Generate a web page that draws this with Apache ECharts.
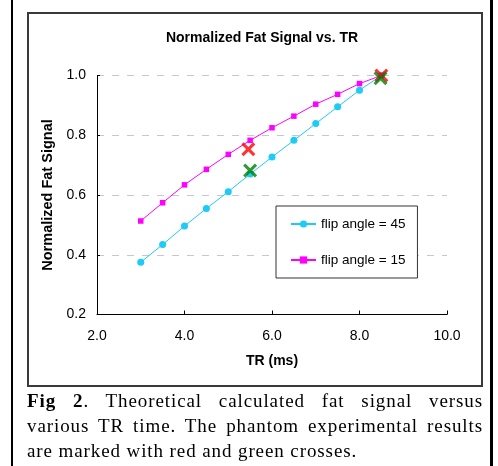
<!DOCTYPE html>
<html>
<head>
<meta charset="utf-8">
<script src="https://cdn.jsdelivr.net/npm/echarts@6/dist/echarts.min.js"></script>
<style>
  html, body { margin: 0; padding: 0; background: #fff; }
  body { width: 498px; height: 466px; position: relative; overflow: hidden; }
  .edge { position: absolute; top: 0; height: 466px; background: #000; }
  #frame { position: absolute; left: 27px; top: 12px; width: 452px; height: 371px; border: 2px solid #3a3a3a; }
  #chart { position: absolute; left: 0; top: 0; width: 498px; height: 390px; }
  #caption { position: absolute; left: 27px; top: 388px; width: 456px;
    font-family: "Liberation Serif", "DejaVu Serif", serif; font-size: 19px; letter-spacing: 0.9px;
    line-height: 25px; color: #000; }
  #caption div { text-align: justify; text-align-last: justify; white-space: nowrap; }
  #caption div.last { text-align-last: left; }
</style>
</head>
<body>
<div class="edge" style="left:11px;width:2px"></div>
<div class="edge" style="left:490px;width:3px"></div>
<div id="frame"></div>
<div id="chart"></div>
<div id="caption">
  <div><b>Fig 2</b>. Theoretical calculated fat signal versus</div>
  <div>various TR time. The phantom experimental results</div>
  <div class="last">are marked with red and green crosses.</div>
</div>
<script>
// --- DATA ---
const trValues = [3.0, 3.5, 4.0, 4.5, 5.0, 5.5, 6.0, 6.5, 7.0, 7.5, 8.0, 8.5];
const flip45 = [0.375, 0.434, 0.496, 0.555, 0.611, 0.670, 0.727, 0.783, 0.839, 0.895, 0.951, 1.0];
const flip15 = [0.513, 0.574, 0.634, 0.686, 0.736, 0.783, 0.825, 0.864, 0.904, 0.937, 0.973, 1.0];
const redCross = [[5.46, 0.753], [8.5, 1.0]];
const greenCross = [[5.5, 0.682], [8.48, 0.991]];
const seriesNames = ['flip angle = 45', 'flip angle = 15'];

// filled "X" outline, 14x14
const crossPath = 'path://M0,2.2 L2.2,0 L7,4.8 L11.8,0 L14,2.2 L9.2,7 L14,11.8 L11.8,14 L7,9.2 L2.2,14 L0,11.8 L4.8,7 Z';
const sans = 'Liberation Sans, Arial, sans-serif';

const chart = echarts.init(document.getElementById('chart'), null, { renderer: 'canvas' });

chart.setOption({
    animation: false,
    backgroundColor: 'transparent',
    title: {
        text: 'Normalized Fat Signal vs. TR',
        left: 262, top: 31, padding: 0, textAlign: 'center',
        textStyle: { fontFamily: sans, fontSize: 14, fontWeight: 'bold', color: '#000' }
    },
    grid: { left: 97, top: 75.5, width: 350, height: 239 },
    legend: {
        data: seriesNames,
        orient: 'vertical',
        left: 276, top: 206,
        padding: [11, 12, 11, 14],
        itemWidth: 25, itemHeight: 9, itemGap: 22,
        borderColor: '#333', borderWidth: 1, borderRadius: 0,
        backgroundColor: '#fff',
        textStyle: { fontFamily: sans, fontSize: 13.5, color: '#000' }
    },
    xAxis: {
        type: 'value', min: 2, max: 10, interval: 2,
        name: 'TR (ms)', nameLocation: 'middle', nameGap: 40,
        nameTextStyle: { fontFamily: sans, fontSize: 14, fontWeight: 'bold', color: '#000' },
        axisLine: { lineStyle: { color: '#000', width: 1 } },
        axisTick: { inside: true, length: 4, lineStyle: { color: '#000' } },
        axisLabel: { margin: 15, fontFamily: sans, fontSize: 14, color: '#000', formatter: v => v.toFixed(1) },
        splitLine: { show: false }
    },
    yAxis: {
        type: 'value', min: 0.2, max: 1.0, interval: 0.2,
        name: 'Normalized Fat Signal', nameLocation: 'middle', nameGap: 40,
        nameTextStyle: { fontFamily: sans, fontSize: 14.5, fontWeight: 'bold', color: '#000' },
        axisLine: { show: true, lineStyle: { color: '#000', width: 1 } },
        axisTick: { show: true, inside: true, length: 3, lineStyle: { color: '#000' } },
        axisLabel: { margin: 11, fontFamily: sans, fontSize: 14, color: '#000', formatter: v => v.toFixed(1) },
        splitLine: { show: true, lineStyle: { color: '#c8c8c8', width: 1, type: [7, 8] } }
    },
    series: [
        {
            name: seriesNames[0], type: 'line',
            data: trValues.map((t, i) => [t, flip45[i]]),
            symbol: 'circle', symbolSize: 7,
            lineStyle: { color: '#1ccbf7', width: 1 },
            itemStyle: { color: '#1ccbf7' }
        },
        {
            name: seriesNames[1], type: 'line',
            data: trValues.map((t, i) => [t, flip15[i]]),
            symbol: 'rect', symbolSize: 5.5,
            lineStyle: { color: '#ff00ff', width: 1 },
            itemStyle: { color: '#ff00ff' }
        },
        {
            name: 'red', type: 'scatter', data: redCross,
            symbol: crossPath, symbolSize: 14, z: 5,
            itemStyle: { color: '#ff0000' }
        },
        {
            name: 'green', type: 'scatter', data: greenCross,
            symbol: crossPath, symbolSize: 14, z: 6,
            itemStyle: { color: '#008000' }
        }
    ]
});
</script>
</body>
</html>
